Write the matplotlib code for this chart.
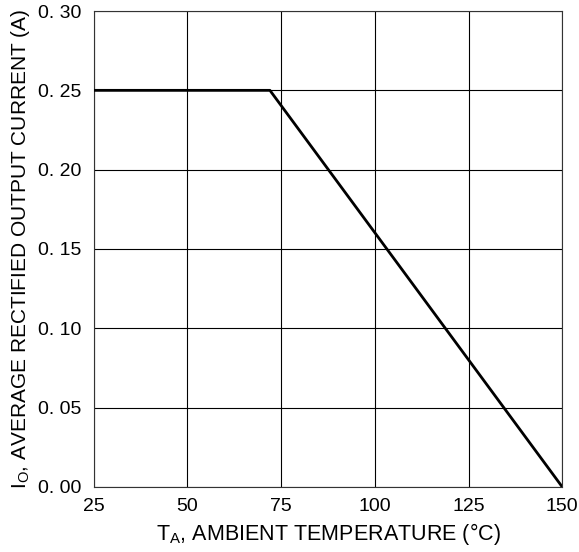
import matplotlib.pyplot as plt
import numpy as np

plt.rcParams['font.family'] = ['Liberation Sans', 'DejaVu Sans']

# derating curve
temp = [25, 72, 150]
current = [0.25, 0.25, 0.0]

x_ticks = [25, 50, 75, 100, 125, 150]
y_ticks = [0.00, 0.05, 0.10, 0.15, 0.20, 0.25, 0.30]
y_labels = ['0. 00', '0. 05', '0. 10', '0. 15', '0. 20', '0. 25', '0. 30']

fig = plt.figure(figsize=(5.79, 5.52), dpi=100)
ax = fig.add_axes([0.162, 0.118, 0.809, 0.862])

ax.plot(temp, current, color='black', lw=2, solid_capstyle='butt', zorder=3)

ax.set_xlim(25, 150)
ax.set_ylim(0, 0.30)
ax.set_xticks(x_ticks)
ax.set_yticks(y_ticks)
ax.set_yticklabels(y_labels)
ax.tick_params(length=0, labelsize=14)
ax.tick_params(axis='y', pad=9)
ax.tick_params(axis='x', pad=8)
ax.grid(True, color='black', lw=0.8)
for s in ax.spines.values():
    s.set_linewidth(0.8)
    s.set_color('#333333')

ax.set_xlabel('T$_\\mathregular{A}$, AMBIENT TEMPERATURE (\u00b0C)', fontsize=15.5, labelpad=4)
ax.set_ylabel('I$_\\mathregular{O}$, AVERAGE RECTIFIED OUTPUT CURRENT (A)', fontsize=15, labelpad=4)

fig.savefig('out.png', dpi=100)
